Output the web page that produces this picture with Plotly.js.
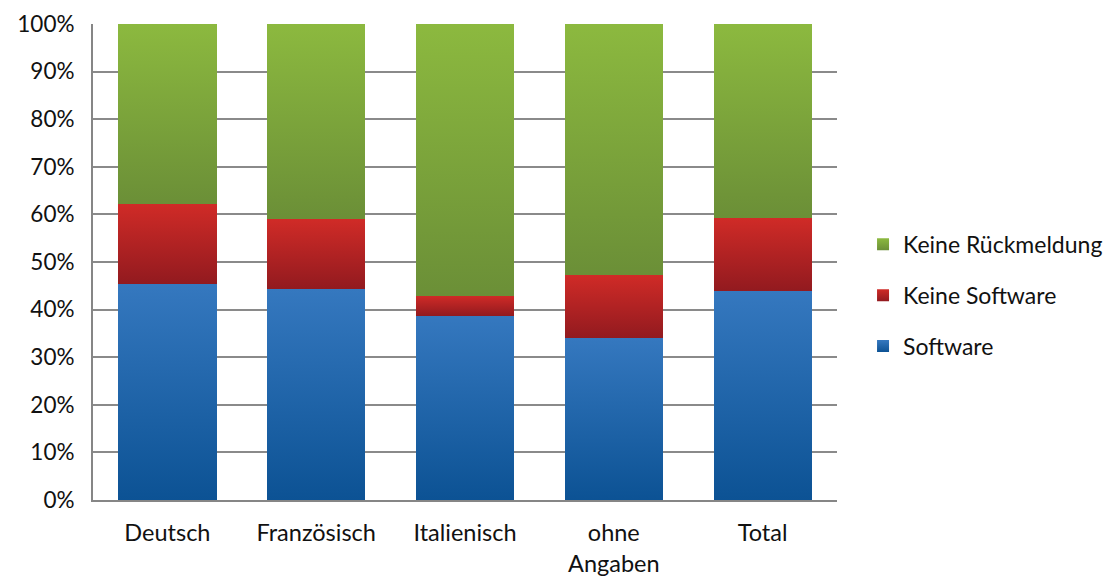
<!DOCTYPE html>
<html>
<head>
<meta charset="utf-8">
<script src="https://cdn.plot.ly/plotly-3.0.1.min.js"></script>
<style>html,body{margin:0;padding:0;background:#fff;}#chart{width:1120px;height:579px;}</style>
</head>
<body>
<div id="chart"></div>
<script>
const categories = ["Deutsch", "Französisch", "Italienisch", "ohne<br>Angaben", "Total"];
const software = [45.4, 44.3, 38.7, 34.0, 43.9];
const keineSoftware = [16.8, 14.7, 4.2, 13.3, 15.4];
const keineRueckmeldung = [37.8, 41.0, 57.1, 52.7, 40.7];
const tickVals = [0, 10, 20, 30, 40, 50, 60, 70, 80, 90, 100];
const tickText = ["0%", "10%", "20%", "30%", "40%", "50%", "60%", "70%", "80%", "90%", "100%"];

const FONT = "Lato, 'Open Sans', sans-serif";
const grads = [
  {id: "gBlue", top: "#3578bf", bottom: "#0c5294", mid: "#2468ad"},
  {id: "gRed", top: "#d02b27", bottom: "#921a1f", mid: "#b42325"},
  {id: "gGreen", top: "#8cb93f", bottom: "#6b8f37", mid: "#7aa33b"}
];

function mk(name, y, g, rank) {
  return {type: "bar", name: name, x: categories, y: y, legendgroup: name, legendrank: rank,
    marker: {color: g.mid, line: {width: 0}}, hoverinfo: "skip"};
}
const data = [
  mk("Software", software, grads[0], 3),
  mk("Keine Software", keineSoftware, grads[1], 2),
  mk("Keine Rückmeldung", keineRueckmeldung, grads[2], 1)
];

const layout = {
  width: 1120, height: 579,
  margin: {l: 93, r: 280, t: 24, b: 79},
  paper_bgcolor: "#ffffff", plot_bgcolor: "#ffffff",
  barmode: "stack", bargap: 0.34,
  font: {family: FONT, size: 22, color: "#111"},
  xaxis: {showgrid: false, showline: true, linecolor: "#868686", linewidth: 2,
    ticks: "", tickfont: {size: 23.5, family: FONT}, ticklabelstandoff: 11, fixedrange: true},
  yaxis: {range: [0, 100], tickvals: tickVals, ticktext: tickText,
    showgrid: true, gridcolor: "#8a8a8a", gridwidth: 2,
    showline: true, linecolor: "#868686", linewidth: 2, zeroline: false,
    ticks: "", tickfont: {size: 22.5, family: FONT}, ticklabelstandoff: 12},
  legend: {x: 1.035, y: 0.43, xanchor: "left", yanchor: "middle",
    traceorder: "grouped", tracegroupgap: 18,
    font: {size: 23, family: FONT, color: "#111"}, itemwidth: 30},
  showlegend: true
};

Plotly.newPlot("chart", data, layout, {staticPlot: true}).then(function (gd) {
  const svg = gd.querySelector("svg.main-svg");
  const ns = "http://www.w3.org/2000/svg";
  let defs = svg.querySelector("defs");
  if (!defs) { defs = document.createElementNS(ns, "defs"); svg.insertBefore(defs, svg.firstChild); }
  grads.forEach(function (g) {
    const lg = document.createElementNS(ns, "linearGradient");
    lg.setAttribute("id", g.id);
    lg.setAttribute("x1", "0"); lg.setAttribute("y1", "0");
    lg.setAttribute("x2", "0"); lg.setAttribute("y2", "1");
    const s1 = document.createElementNS(ns, "stop");
    s1.setAttribute("offset", "0"); s1.setAttribute("stop-color", g.top);
    const s2 = document.createElementNS(ns, "stop");
    s2.setAttribute("offset", "1"); s2.setAttribute("stop-color", g.bottom);
    lg.appendChild(s1); lg.appendChild(s2); defs.appendChild(lg);
  });
  const traces = gd.querySelectorAll(".barlayer .trace");
  traces.forEach(function (t, i) {
    t.querySelectorAll("path").forEach(function (p) {
      p.style.fill = "url(#" + grads[i].id + ")";
    });
  });
  const leg = gd.querySelectorAll(".legend .traces");
  leg.forEach(function (t) {
    const name = t.__data__ && t.__data__[0] && t.__data__[0].trace ? t.__data__[0].trace.name : "";
    const idx = name === "Software" ? 0 : name === "Keine Software" ? 1 : 2;
    t.querySelectorAll(".legendpoints path").forEach(function (p) {
      p.style.fill = "url(#" + grads[idx].id + ")";
    });
  });
});
</script>
</body>
</html>
